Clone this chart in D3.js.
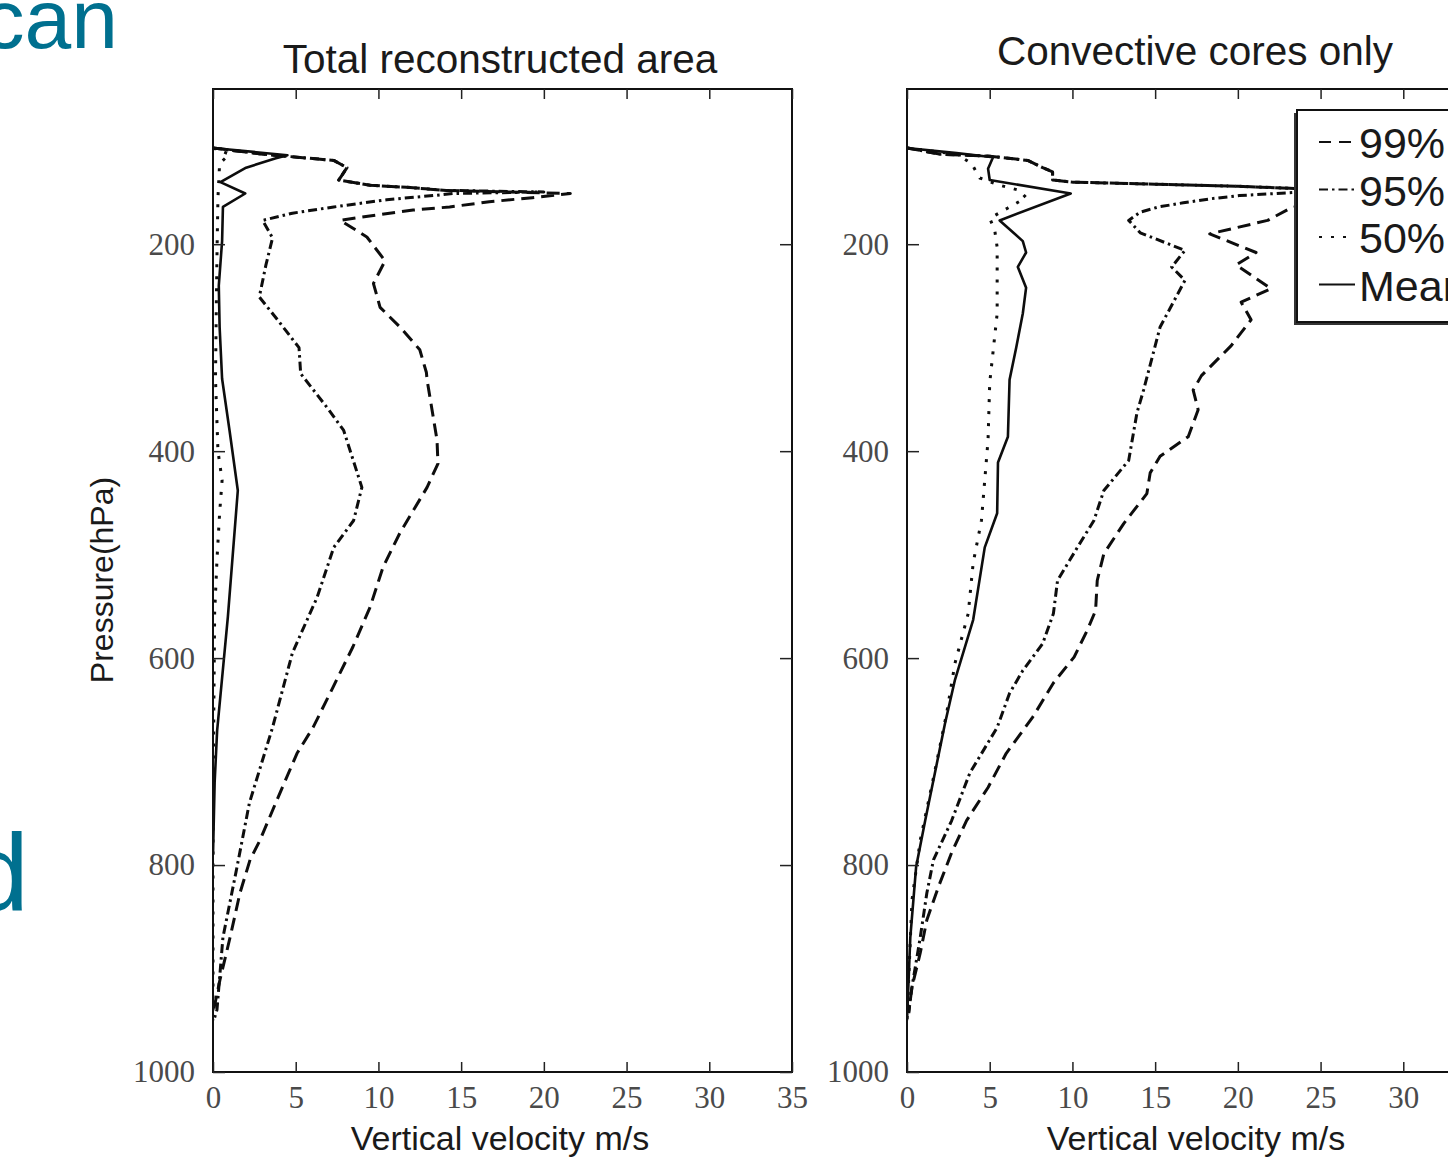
<!DOCTYPE html>
<html>
<head>
<script src="https://d3js.org/d3.v7.min.js"></script>
<style>
  body { margin: 0; background: #fff; }
  svg { display: block; }
</style>
</head>
<body>
<div class="chart"></div>
<script>
// velocity (m/s), pressure (hPa) pairs
var totalP99 = [[0,107],[3,113],[7.3,119],[8.1,126],[7.6,138],[9.5,143],[11.7,145],[14.1,148],[21.6,151],
  [19.3,155],[16.7,159],[14.3,164],[12.1,167],[8.9,174],[7.7,177],[9.3,193],[10.4,216],[9.7,238],[10.1,261],
  [11.3,280],[12.5,302],[12.9,324],[12.94,331],[13.54,389],[13.6,412],[12.94,435],[11.3,479],[10.28,512],
  [9.49,551],[8.46,589],[7.26,628],[6.05,667],[5.08,692],[3.87,737],[2.84,776],[2.24,795],[1.63,827],
  [1.03,870],[0.42,911],[0,943]];
var totalP95 = [[0,107],[3,113],[7.3,119],[8.1,126],[7.6,138],[9.5,143],[11.7,145],[14.1,148],[20,149.5],
  [14.5,151],[13.3,153],[10.5,157],[7.3,164],[4.8,170],[3.0,177],[3.6,194],[3.2,220],[2.8,251],[3.9,273],
  [5.2,300],[5.3,325],[7.0,360],[7.9,380],[9.0,435],[8.5,467],[7.3,493],[6.3,541],[4.8,595],[3.6,667],
  [2.2,740],[1.45,802],[0.6,870],[0.24,940],[0.05,950]];
var totalP50 = [[0,107],[1.0,113],[0.4,122],[0.3,155],[0.25,200],[0.2,260],[0.15,330],[0.3,400],[0.55,428],
  [0.4,460],[0.25,502],[0.1,556],[0.05,650],[0,750],[0,950]];
var totalMean = [[0,107],[4.5,114],[3.8,117],[2,126],[0.45,140],[1.95,151],[0.6,164],[0.55,197],[0.35,240],
  [0.4,280],[0.55,330],[1.0,380],[1.5,438],[0.9,560],[0.25,670],[0.1,720],[0,790]];

var coreP99 = [[0,107],[2,113],[5,115],[7.3,119],[8.2,126],[8.8,130],[8.8,138],[10,140],[15,142],[20,144],
  [25,147],[28,151],[26,155],[23.2,165],[21.8,177],[18.3,190],[21.1,208],[19.9,220],[22,243],[20.2,256],
  [20.8,273],[19.6,298],[17.8,327],[17.3,341],[17.6,360],[17.0,386],[15.3,405],[14.7,421],[14.5,441],
  [13.1,470],[11.9,499],[11.5,525],[11.4,554],[10.9,573],[10.1,599],[8.85,624],[7.6,657],[6.0,692],
  [4.9,725],[3.6,757],[2.7,788],[1.9,821],[1.2,853],[0.8,885],[0.3,918],[0.1,943]];
var coreP95 = [[0,107],[2,113],[5,115],[7.3,119],[8.2,126],[8.8,130],[8.8,138],[10,140],[15,142],[20,144],
  [25,147],[27,149],[23.4,150],[20.1,153],[18.4,156],[16.7,160],[15.2,164],[14.1,169],[13.4,177],[14.1,189],
  [16.8,206],[16.0,222],[16.8,235],[15.3,280],[14.3,341],[13.9,363],[13.4,409],[11.9,438],[11.3,467],
  [10.3,493],[9.1,525],[8.85,557],[8.2,586],[7.0,612],[6.2,634],[5.45,667],[3.8,711],[2.7,757],[1.6,795],
  [1.2,827],[0.8,870],[0.3,918],[0.1,943]];
var coreP50 = [[0,107],[3,113],[3.9,122],[4.4,136],[5.6,143],[6.8,148],[7.2,155],[6.1,165],[5.0,175],
  [5.3,186],[5.45,203],[5.45,267],[5.0,334],[4.9,389],[4.7,428],[4.5,467],[4.0,508],[3.7,557],[2.9,605],
  [2.4,653],[1.7,708],[0.8,776],[0.3,834],[0,950]];
var coreMean = [[0,107],[3,112],[5.2,116],[4.9,127],[5.0,138],[9.9,151],[5.6,177],[7.0,197],[7.2,208],
  [6.7,222],[7.2,242],[7.0,267],[6.6,300],[6.2,331],[6.1,386],[5.5,411],[5.45,460],[4.7,493],[4.0,563],
  [2.9,621],[2.3,663],[1.1,757],[0.55,802],[0.2,870],[0,950]];

var xTicksLeft = [0, 5, 10, 15, 20, 25, 30, 35];
var xTicksRight = [0, 5, 10, 15, 20, 25, 30];
var yTicks = [200, 400, 600, 800, 1000];
var legendLabels = ["99%", "95%", "50%", "Mean"];

var dashes = { p99: "13,7", p95: "9,4,2.5,4", p50: "3,9", mean: null };

var W = 1448, H = 1160;
var svg = d3.select(".chart").append("svg").attr("width", W).attr("height", H);

// slide text behind the figure
svg.append("text").attr("x", 118).attr("y", 48).attr("text-anchor", "end")
  .style("font-family", "Liberation Sans, Arial, sans-serif").style("font-size", "84px")
  .attr("fill", "#00708f").text("can");
svg.append("text").attr("x", 29).attr("y", 910).attr("text-anchor", "end")
  .style("font-family", "Liberation Sans, Arial, sans-serif").style("font-size", "110px")
  .attr("fill", "#00708f").text("d");

var plotTop = 89, plotBottom = 1072, pw = 579;

function panel(x0, xTicks, title, titleX, titleY, labelX, series, id) {
  var x = d3.scaleLinear().domain([0, 35]).range([x0, x0 + pw]);
  var y = d3.scaleLinear().domain([50, 1000]).range([plotTop, plotBottom]);
  var g = svg.append("g");

  g.append("clipPath").attr("id", "clip" + id).append("rect")
    .attr("x", x0).attr("y", plotTop).attr("width", pw).attr("height", plotBottom - plotTop);

  var line = d3.line().x(function(d) { return x(d[0]); }).y(function(d) { return y(d[1]); });
  g.append("g").attr("clip-path", "url(#clip" + id + ")")
    .selectAll("path").data(series).enter().append("path")
    .attr("d", function(d) { return line(d.values); })
    .attr("fill", "none").attr("stroke", "#0d0d0d")
    .attr("stroke-width", function(d) { return d.dash ? 3 : 2.6; })
    .attr("stroke-dasharray", function(d) { return d.dash; })
    .attr("stroke-linejoin", "round");

  // frame
  g.append("rect").attr("x", x0).attr("y", plotTop).attr("width", pw).attr("height", plotBottom - plotTop)
    .attr("fill", "none").attr("stroke", "#111").attr("stroke-width", 2);

  // inward ticks on all sides
  var xb = d3.axisBottom(x).tickValues(xTicks).tickSizeInner(-10).tickSizeOuter(0).tickPadding(14);
  var xt = d3.axisTop(x).tickValues(xTicks).tickSizeInner(-10).tickSizeOuter(0).tickFormat("");
  var yl = d3.axisLeft(y).tickValues(yTicks).tickSizeInner(-12).tickSizeOuter(0).tickPadding(18)
    .tickFormat(d3.format("d"));
  var yr = d3.axisRight(y).tickValues(yTicks).tickSizeInner(-12).tickSizeOuter(0).tickFormat("");

  [[xb, "translate(0," + plotBottom + ")"], [xt, "translate(0," + plotTop + ")"],
   [yl, "translate(" + x0 + ",0)"], [yr, "translate(" + (x0 + pw) + ",0)"]].forEach(function(a) {
    var ax = g.append("g").attr("transform", a[1]).call(a[0]);
    ax.select(".domain").remove();
    ax.selectAll("line").attr("stroke", "#222").attr("stroke-width", 1.5);
    ax.selectAll("text").attr("fill", "#4a4a4a")
      .style("font-family", "Liberation Serif, Times New Roman, serif").style("font-size", "31px");
  });

  g.append("text").attr("x", titleX).attr("y", titleY)
    .attr("text-anchor", "middle").attr("fill", "#1a1a1a")
    .style("font-family", "Liberation Sans, Arial, sans-serif").style("font-size", "40.5px").text(title);
  g.append("text").attr("x", labelX).attr("y", 1150).attr("text-anchor", "middle").attr("fill", "#1a1a1a")
    .style("font-family", "Liberation Sans, Arial, sans-serif").style("font-size", "34px")
    .text("Vertical velocity m/s");
  return { x: x, y: y };
}

panel(213, xTicksLeft, "Total reconstructed area", 500, 73, 500, [
  { values: totalP99, dash: dashes.p99 }, { values: totalP95, dash: dashes.p95 },
  { values: totalP50, dash: dashes.p50 }, { values: totalMean, dash: dashes.mean }], "L");
panel(907, xTicksRight, "Convective cores only", 1195, 65, 1196, [
  { values: coreP99, dash: dashes.p99 }, { values: coreP95, dash: dashes.p95 },
  { values: coreP50, dash: dashes.p50 }, { values: coreMean, dash: dashes.mean }], "R");

svg.append("text").attr("transform", "translate(113,580) rotate(-90)").attr("text-anchor", "middle")
  .attr("fill", "#1a1a1a").style("font-family", "Liberation Sans, Arial, sans-serif").style("font-size", "32px")
  .text("Pressure(hPa)");

// legend
var lg = svg.append("g").attr("transform", "translate(1297,110)");
lg.append("rect").attr("x", -3).attr("y", 3).attr("width", 220).attr("height", 212).attr("fill", "#333");
lg.append("rect").attr("x", 0).attr("y", 0).attr("width", 220).attr("height", 212)
  .attr("fill", "#fff").attr("stroke", "#111").attr("stroke-width", 2);
var legDash = ["12,8", "9,4,2.5,4", "3,9", null];
var rows = lg.selectAll("g.row").data(legendLabels).enter().append("g")
  .attr("transform", function(d, i) { return "translate(0," + (32 + i * 47.5) + ")"; });
rows.append("line").attr("x1", 22).attr("x2", 58).attr("y1", 0).attr("y2", 0)
  .attr("stroke", "#111").attr("stroke-width", 2)
  .attr("stroke-dasharray", function(d, i) { return legDash[i]; });
rows.append("text").attr("x", 62).attr("y", 16).attr("fill", "#1a1a1a")
  .style("font-family", "Liberation Sans, Arial, sans-serif").style("font-size", "43px")
  .text(function(d) { return d; });
</script>
</body>
</html>
